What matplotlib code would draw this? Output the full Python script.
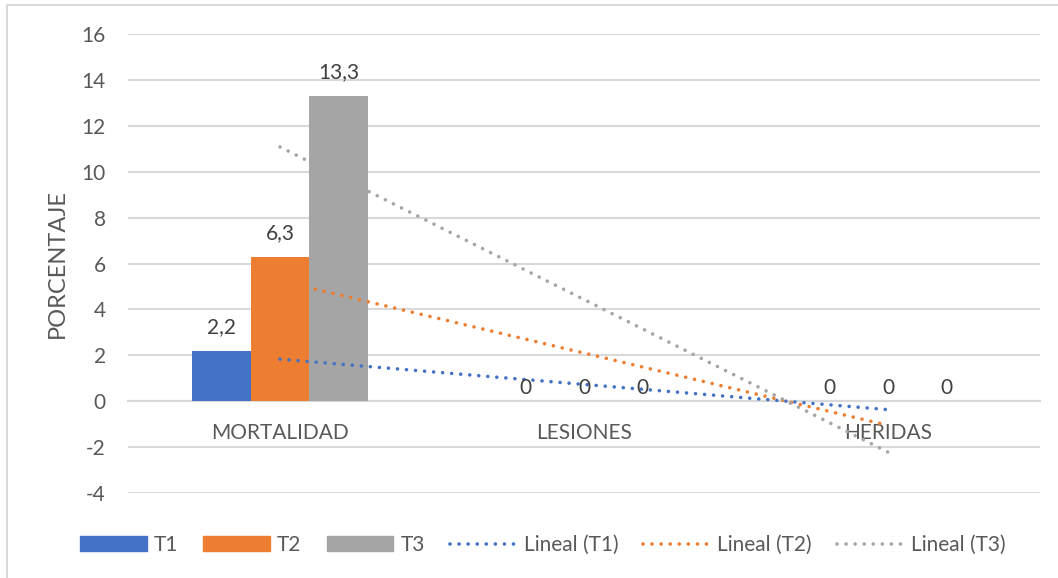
import matplotlib.pyplot as plt
import numpy as np
from matplotlib.lines import Line2D
from matplotlib.patches import Patch

categories = ['MORTALIDAD', 'LESIONES', 'HERIDAS']
series_names = ['T1', 'T2', 'T3']
t1 = [2.2, 0, 0]
t2 = [6.3, 0, 0]
t3 = [13.3, 0, 0]
yticks = [-4, -2, 0, 2, 4, 6, 8, 10, 12, 14, 16]

colors = ['#4472C4', '#ED7D31', '#A5A5A5']
txt = '#595959'
grid = '#D9D9D9'
dots = (0, (0.01, 2.5))

plt.rcParams['font.family'] = ['Lato', 'DejaVu Sans']

fig = plt.figure(figsize=(10.58, 5.78), dpi=100)
ax = fig.add_axes([0.121, 0.147, 0.862, 0.794])

# outer chart border (top and left edges are visible)
fig.add_artist(Line2D([7/1058, 7/1058], [0, 1 - 5/578], transform=fig.transFigure,
                      color=grid, lw=1.5))
fig.add_artist(Line2D([7/1058, 1], [1 - 5/578, 1 - 5/578], transform=fig.transFigure,
                      color=grid, lw=1.5))

x = np.arange(1, len(categories) + 1)
gap = 2.19
w = 1 / (len(series_names) + gap)
data = [t1, t2, t3]

for i, (vals, c) in enumerate(zip(data, colors)):
    pos = x + (i - 1) * w
    ax.bar(pos, vals, width=w, color=c, zorder=3)
    for p, v in zip(pos, vals):
        off = 24 if v != 0 else 13
        ax.annotate(('%g' % v).replace('.', ','), (p, v), xytext=(0, off),
                    textcoords='offset pixels', ha='center', va='center',
                    fontsize=15, color='#404040', zorder=5)
    # linear trendline through the category positions
    m, b = np.polyfit(x, vals, 1)
    ax.plot(x, m * x + b, color=c, lw=2.6, linestyle=dots,
            dash_capstyle='round', zorder=4)

ax.set_xlim(0.5, 3.5)
ax.set_ylim(-4, 16)
ax.set_yticks(yticks)
ax.set_yticklabels([str(t) for t in yticks])
ax.set_xticks(x)
ax.set_xticklabels(categories)
ax.yaxis.grid(True, color=grid, lw=1.5, zorder=0)
ax.set_axisbelow(True)
for s in ['top', 'right', 'left']:
    ax.spines[s].set_visible(False)
ax.spines['bottom'].set_position(('data', 0))
ax.spines['bottom'].set_color(grid)
ax.spines['bottom'].set_linewidth(1.5)
ax.tick_params(axis='y', length=0, pad=16, labelsize=15, labelcolor=txt)
ax.tick_params(axis='x', length=0, pad=16, labelsize=15, labelcolor=txt)
ax.set_ylabel('PORCENTAJE', fontsize=17, color=txt, labelpad=10)

handles = [Patch(color=c) for c in colors] + \
    [Line2D([], [], color=c, lw=2.6, linestyle=dots,
            dash_capstyle='round') for c in colors]
labels = series_names + ['Lineal (%s)' % n for n in series_names]
fig.legend(handles, labels, loc='center', bbox_to_anchor=(0.513, 1 - 545/578),
           ncol=6, frameon=False, fontsize=15, labelcolor=txt,
           handlelength=3.2, handletextpad=0.35, columnspacing=1.2)

fig.savefig('out.png', dpi=100, facecolor='white')
